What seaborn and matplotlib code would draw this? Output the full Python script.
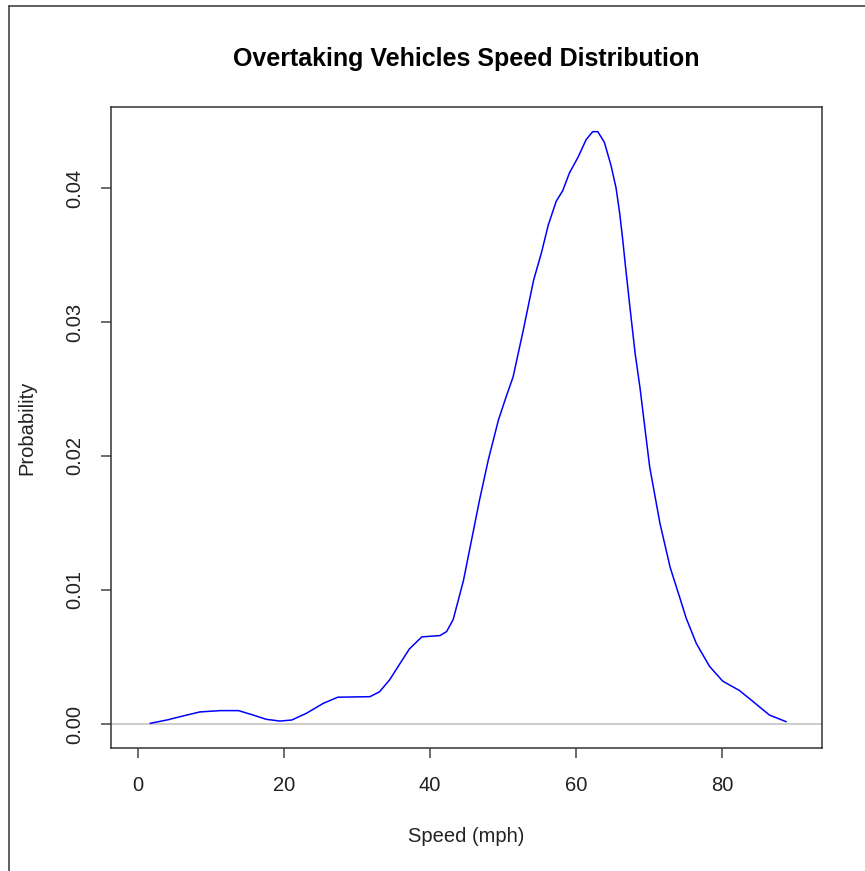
import matplotlib
matplotlib.use("Agg")
import matplotlib.pyplot as plt
import seaborn as sns
import pandas as pd
from matplotlib.lines import Line2D

# Density curve (speed in mph, density)
speed = [1.7, 4.0, 6.2, 8.5, 11.3, 13.8, 15.8, 17.6, 19.5, 21.1, 23.1, 25.4,
         27.4, 31.8, 33.1, 34.5, 35.9, 37.2, 38.9, 41.4, 42.3, 43.2, 44.6,
         45.7, 46.8, 48.0, 49.4, 50.5, 51.4, 52.8, 54.2, 55.3, 56.2, 57.3,
         58.2, 59.1, 60.3, 61.4, 62.3, 63.0, 63.9, 64.8, 65.5, 66.0, 66.4,
         66.8, 67.4, 68.1, 68.8, 69.2, 70.1, 71.5, 72.9, 74.3, 75.1, 76.5,
         78.3, 80.1, 82.4, 84.2, 86.5, 88.8]
density = [0.00005, 0.0003, 0.0006, 0.0009, 0.0010, 0.0010, 0.00067, 0.00035,
           0.00022, 0.0003, 0.0008, 0.00154, 0.0020, 0.00204, 0.0024, 0.0033,
           0.0045, 0.0056, 0.0065, 0.0066, 0.0069, 0.0078, 0.0107, 0.0137,
           0.0167, 0.0197, 0.0227, 0.0245, 0.0259, 0.0294, 0.0331, 0.0352,
           0.0372, 0.0390, 0.0398, 0.0411, 0.0423, 0.0436, 0.0442, 0.0442,
           0.0434, 0.0417, 0.0400, 0.0381, 0.0362, 0.0341, 0.0311, 0.0277,
           0.0250, 0.0232, 0.0192, 0.0150, 0.0117, 0.0093, 0.0079, 0.0060,
           0.0043, 0.0032, 0.0025, 0.0017, 0.00067, 0.00017]
x_ticks = [0, 20, 40, 60, 80]
y_ticks = [0.00, 0.01, 0.02, 0.03, 0.04]
y_tick_labels = ["0.00", "0.01", "0.02", "0.03", "0.04"]

df = pd.DataFrame({"Speed": speed, "Density": density})

sns.set_style("white")
plt.rcParams["font.family"] = ["Liberation Sans", "DejaVu Sans"]

W, H = 865, 871
fig = plt.figure(figsize=(W / 100, H / 100), dpi=100)
L, R, T, B = 110.7, 822, 107, 748
ax = fig.add_axes([L / W, 1 - B / H, (R - L) / W, (B - T) / H])

ax.axhline(0, color="#c4c4c4", lw=1.2, zorder=1)
sns.lineplot(data=df, x="Speed", y="Density", color="#0000ff", lw=1.1,
             ax=ax, zorder=2, estimator=None, sort=False,
             solid_joinstyle="round")

ax.set_xlim(-3.7, 93.7)
ax.set_ylim(-0.00179, 0.04604)
ax.set_xticks(x_ticks)
ax.set_yticks(y_ticks)
ax.set_yticklabels(y_tick_labels)
for s in ax.spines.values():
    s.set_visible(True)
    s.set_color("#333333")
    s.set_linewidth(1.1)
ax.tick_params(axis="both", direction="out", length=7, width=1.1,
               color="#444444", labelsize=14.5, labelcolor="#222222",
               bottom=True, left=True)
ax.tick_params(axis="x", pad=13)
ax.tick_params(axis="y", pad=12, labelrotation=90)
for lab in ax.get_yticklabels():
    lab.set_va("center")

ax.set_xlabel("")
ax.set_ylabel("")
ax.text(0.5, (B - 836) / (B - T), "Speed (mph)", transform=ax.transAxes,
        ha="center", va="center", fontsize=14.5, color="#222222")
ax.text((27 - L) / (R - L), 0.5, "Probability", transform=ax.transAxes,
        ha="center", va="center", rotation=90, fontsize=14.5, color="#222222")
ax.text(0.5, (B - 59) / (B - T), "Overtaking Vehicles Speed Distribution",
        transform=ax.transAxes, ha="center", va="center", fontsize=18,
        fontweight="bold", color="black")

# screenshot frame edges
fig.add_artist(Line2D([9 / W, 1], [1 - 6 / H, 1 - 6 / H], color="#444444",
                      lw=1.2, transform=fig.transFigure))
fig.add_artist(Line2D([9 / W, 9 / W], [0, 1 - 6 / H], color="#444444",
                      lw=1.2, transform=fig.transFigure))

fig.savefig("out.png", dpi=100)
